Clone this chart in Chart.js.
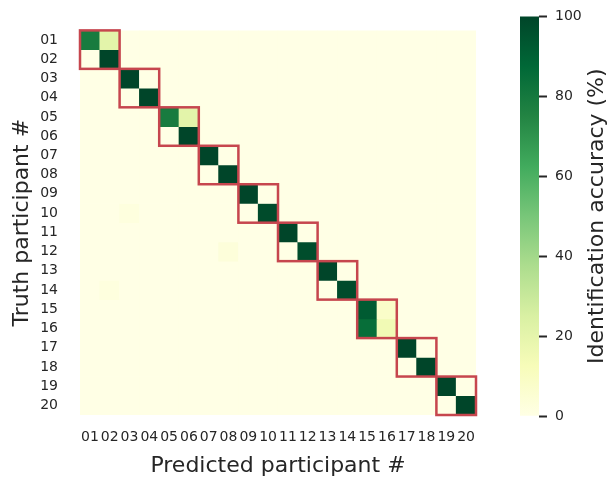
<!DOCTYPE html>
<html>
<head>
<meta charset="utf-8">
<script src="https://cdn.jsdelivr.net/npm/chart.js@4.4.1/dist/chart.umd.min.js"></script>
<style>
  body { margin: 0; background: #fff; }
  #wrap { position: relative; width: 609px; height: 481px; }
  canvas { position: absolute; top: 0; }
  #heat { left: 0; }
  #cbar { left: 500px; }
</style>
</head>
<body>
<div id="wrap">
  <canvas id="heat" width="500" height="481"></canvas>
  <canvas id="cbar" width="109" height="481"></canvas>
</div>
<script>
// truth (rows) and predicted (columns) participants
const rowLabels = ['01','02','03','04','05','06','07','08','09','10','11','12','13','14','15','16','17','18','19','20'];
const colLabels = ['01','02','03','04','05','06','07','08','09','10','11','12','13','14','15','16','17','18','19','20'];

// identification accuracy (%) per truth row / predicted column
const accuracy = [
  [79,21,0,0,0,0,0,0,0,0,0,0,0,0,0,0,0,0,0,0],
  [0,100,0,0,0,0,0,0,0,0,0,0,0,0,0,0,0,0,0,0],
  [0,0,100,0,0,0,0,0,0,0,0,0,0,0,0,0,0,0,0,0],
  [0,0,0,100,0,0,0,0,0,0,0,0,0,0,0,0,0,0,0,0],
  [0,0,0,0,79,21,0,0,0,0,0,0,0,0,0,0,0,0,0,0],
  [0,0,0,0,0,100,0,0,0,0,0,0,0,0,0,0,0,0,0,0],
  [0,0,0,0,0,0,100,0,0,0,0,0,0,0,0,0,0,0,0,0],
  [0,0,0,0,0,0,0,100,0,0,0,0,0,0,0,0,0,0,0,0],
  [0,0,0,0,0,0,0,0,100,0,0,0,0,0,0,0,0,0,0,0],
  [0,0,2,0,0,0,0,0,0,98,0,0,0,0,0,0,0,0,0,0],
  [0,0,0,0,0,0,0,0,0,0,100,0,0,0,0,0,0,0,0,0],
  [0,0,0,0,0,0,0,3,0,0,0,97,0,0,0,0,0,0,0,0],
  [0,0,0,0,0,0,0,0,0,0,0,0,100,0,0,0,0,0,0,0],
  [0,2,0,0,0,0,0,0,0,0,0,0,0,98,0,0,0,0,0,0],
  [0,0,0,0,0,0,0,0,0,0,0,0,0,0,92,8,0,0,0,0],
  [0,0,0,0,0,0,0,0,0,0,0,0,0,0,85,15,0,0,0,0],
  [0,0,0,0,0,0,0,0,0,0,0,0,0,0,0,0,100,0,0,0],
  [0,0,0,0,0,0,0,0,0,0,0,0,0,0,0,0,0,100,0,0],
  [0,0,0,0,0,0,0,0,0,0,0,0,0,0,0,0,0,0,100,0],
  [0,0,0,0,0,0,0,0,0,0,0,0,0,0,0,0,0,0,0,100]
];

// pairs outlined in red (first and last participant of each block)
const blocks = [['01','02'],['03','04'],['05','06'],['07','08'],['09','10'],
                ['11','12'],['13','14'],['15','16'],['17','18'],['19','20']];

const cbarTicks = [0, 20, 40, 60, 80, 100];

// matplotlib YlGn
const ylgnStops = ['#ffffe5','#f7fcb9','#d9f0a3','#addd8e','#78c679','#41ab5d','#238443','#006837','#004529'];

function hexRgb(h) {
  return [parseInt(h.slice(1,3),16), parseInt(h.slice(3,5),16), parseInt(h.slice(5,7),16)];
}
function ylgn(v) {
  const t = Math.max(0, Math.min(1, v / 100)) * (ylgnStops.length - 1);
  const i = Math.min(Math.floor(t), ylgnStops.length - 2);
  const f = t - i;
  const a = hexRgb(ylgnStops[i]), b = hexRgb(ylgnStops[i + 1]);
  const c = a.map((x, k) => Math.round(x + (b[k] - x) * f));
  return `rgb(${c[0]},${c[1]},${c[2]})`;
}

const ink = '#262626';
Chart.defaults.font.family = 'DejaVu Sans';
Chart.defaults.color = ink;

const boxPlugin = {
  id: 'boxes',
  afterDatasetsDraw(chart) {
    const {ctx, scales: {x, y}} = chart;
    const w = x.getPixelForValue(1) - x.getPixelForValue(0);
    ctx.save();
    ctx.strokeStyle = '#c6464e';
    ctx.lineWidth = 2.5;
    blocks.forEach(([a, b]) => {
      const i0 = colLabels.indexOf(a), i1 = colLabels.indexOf(b);
      const left = x.getPixelForValue(i0) - w / 2;
      const right = x.getPixelForValue(i1) + w / 2;
      const top = y.getPixelForValue(rowLabels.indexOf(a) + 0.5);
      const bottom = y.getPixelForValue(rowLabels.indexOf(b) + 1.5);
      ctx.strokeRect(left, top, right - left, bottom - top);
    });
    ctx.restore();
  }
};

new Chart(document.getElementById('heat'), {
  type: 'bar',
  data: {
    labels: colLabels,
    datasets: rowLabels.map((lab, r) => ({
      label: lab,
      data: colLabels.map(() => [r + 0.5, r + 1.5]),
      backgroundColor: accuracy[r].map(ylgn),
      borderWidth: 0,
      grouped: false,
      barPercentage: 1,
      categoryPercentage: 1
    }))
  },
  options: {
    responsive: false,
    animation: false,
    devicePixelRatio: 1,
    layout: { padding: { left: 0, right: 24, top: 19, bottom: 0 } },
    plugins: { legend: { display: false }, tooltip: { enabled: false } },
    scales: {
      x: {
        grid: { display: false, drawTicks: false },
        border: { display: false },
        ticks: { font: { size: 14 }, padding: 14, maxRotation: 0, autoSkip: false },
        title: { display: true, text: 'Predicted participant #', font: { size: 22 }, padding: { top: 0, bottom: 2 } },
        afterFit: s => { s.height = 66; }
      },
      y: {
        type: 'linear',
        reverse: true,
        min: 0.5,
        max: 20.5,
        afterBuildTicks: s => { s.ticks = rowLabels.map((l, i) => ({ value: i + 1 })); },
        grid: { display: false, drawTicks: false },
        border: { display: false },
        ticks: { font: { size: 14 }, padding: 22, callback: v => rowLabels[v - 1] },
        title: { display: true, text: 'Truth participant #', font: { size: 22 }, padding: { top: 9, bottom: 0 } },
        afterFit: s => { s.width = 80; }
      }
    }
  },
  plugins: [boxPlugin]
});

const cbarTitle = {
  id: 'cbarTitle',
  afterDraw(chart) {
    const {ctx, chartArea} = chart;
    ctx.save();
    ctx.translate(97, (chartArea.top + chartArea.bottom) / 2);
    ctx.rotate(-Math.PI / 2);
    ctx.textAlign = 'center';
    ctx.textBaseline = 'middle';
    ctx.font = '22px "DejaVu Sans"';
    ctx.fillStyle = ink;
    ctx.fillText('Identification accuracy (%)', 0, 0);
    ctx.restore();
  }
};

const cbar = new Chart(document.getElementById('cbar'), {
  type: 'bar',
  data: {
    labels: [''],
    datasets: [{
      data: [[cbarTicks[0], cbarTicks[cbarTicks.length - 1]]],
      backgroundColor: c => {
        const y = c.chart.scales.y;
        if (!y) return ylgnStops[4];
        const p0 = y.getPixelForValue(0), p1 = y.getPixelForValue(100);
        if (!isFinite(p0) || !isFinite(p1)) return ylgnStops[4];
        const g = c.chart.ctx.createLinearGradient(0, p0, 0, p1);
        ylgnStops.forEach((col, i) => g.addColorStop(i / (ylgnStops.length - 1), col));
        return g;
      },
      borderWidth: 0,
      barPercentage: 1,
      categoryPercentage: 1
    }]
  },
  options: {
    responsive: false,
    animation: false,
    devicePixelRatio: 1,
    layout: { padding: { left: 20, right: 0, top: 16, bottom: 65 } },
    plugins: { legend: { display: false }, tooltip: { enabled: false } },
    scales: {
      x: { display: false },
      y: {
        position: 'right',
        min: 0,
        max: 100,
        afterBuildTicks: s => { s.ticks = cbarTicks.map(v => ({ value: v })); },
        grid: { drawOnChartArea: false, tickLength: 8, tickWidth: 2, tickColor: ink },
        border: { display: false },
        ticks: { font: { size: 14 }, padding: 8 },
        afterFit: s => { s.width = 70; }
      }
    }
  },
  plugins: [cbarTitle]
});
cbar.update();
</script>
</body>
</html>
